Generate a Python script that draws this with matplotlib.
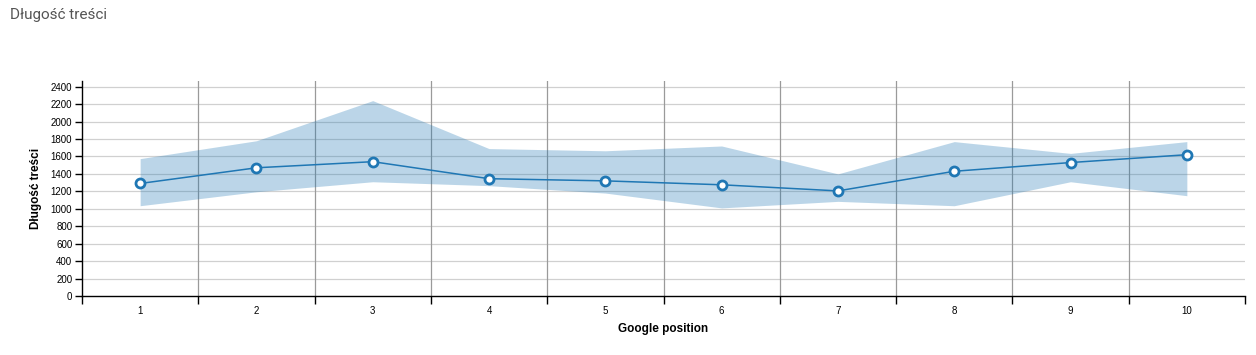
import numpy as np
import matplotlib
matplotlib.use("Agg")
import matplotlib.pyplot as plt
from matplotlib.ticker import FixedLocator, NullFormatter, FixedFormatter

# ── Data ─────────────────────────────────────────────────────────────────────
positions = [1, 2, 3, 4, 5, 6, 7, 8, 9, 10]
mean_len  = [1290, 1470, 1540, 1345, 1320, 1275, 1205, 1430, 1530, 1620]
upper_len = [1575, 1780, 2240, 1690, 1665, 1720, 1400, 1770, 1635, 1770]
lower_len = [1035, 1195, 1310, 1265, 1180, 1010, 1085, 1035, 1310, 1150]
y_ticks   = list(range(0, 2401, 200))

BLUE = "#1f77b4"

plt.rcParams["font.family"] = ["Liberation Sans", "DejaVu Sans"]

fig = plt.figure(figsize=(12.56, 3.55), dpi=100)
ax = fig.add_axes([82 / 1256, 1 - 296 / 355, (1245 - 82) / 1256, (296 - 81) / 355])

ax.fill_between(positions, lower_len, upper_len, color=BLUE, alpha=0.3,
                linewidth=0, zorder=2)
ax.plot(positions, mean_len, color=BLUE, lw=1.1, zorder=3,
        marker="o", ms=6.5, mfc="white", mec=BLUE, mew=2)

ax.set_xlim(0.5, 10.5)
ax.set_ylim(0, 2465)

# band boundaries carry the ticks, labels sit at the band centres
bounds = [p - 0.5 for p in positions] + [positions[-1] + 0.5]
ax.xaxis.set_major_locator(FixedLocator(bounds))
ax.xaxis.set_major_formatter(NullFormatter())
ax.xaxis.set_minor_locator(FixedLocator(positions))
ax.xaxis.set_minor_formatter(FixedFormatter([str(p) for p in positions]))
ax.tick_params(axis="x", which="major", length=6, width=1, color="black")
ax.tick_params(axis="x", which="minor", length=0, pad=7, labelsize=7)
ax.set_yticks(y_ticks)
ax.tick_params(axis="y", length=5, width=1, labelsize=7, pad=2)

for b in bounds[1:-1]:
    ax.axvline(b, color="#9a9a9a", lw=0.9, zorder=1)
for t in y_ticks[1:]:
    ax.axhline(t, color="#d0d0d0", lw=0.9, zorder=0)

for s in ["top", "right"]:
    ax.spines[s].set_visible(False)
for s in ["left", "bottom"]:
    ax.spines[s].set_color("black")
    ax.spines[s].set_linewidth(1)

ax.set_xlabel("Google position", fontsize=8.5, fontweight="bold", labelpad=5)
ax.set_ylabel("Długość treści", fontsize=8.5, fontweight="bold", labelpad=6)

fig.text(10 / 1256, 1 - 15 / 355, "Długość treści", fontsize=11,
         color="#555555", va="center", ha="left",
         family=["Roboto", "DejaVu Sans"])

fig.savefig("out.png", dpi=100)
